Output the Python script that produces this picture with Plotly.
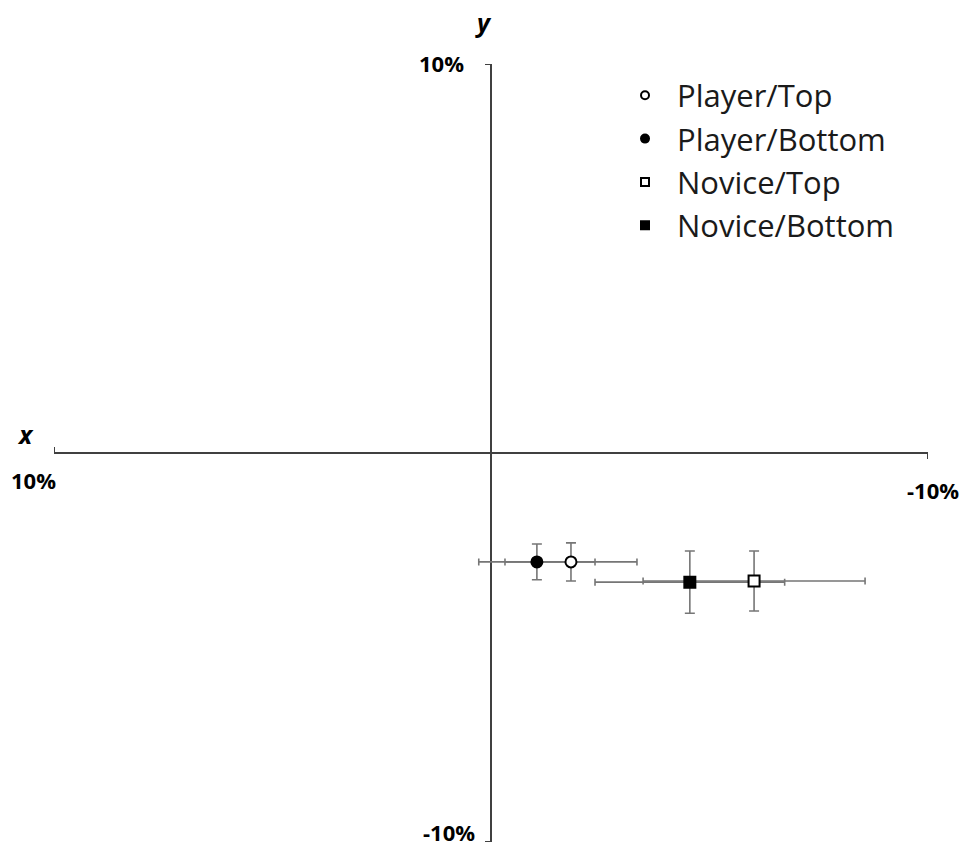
import plotly.graph_objects as go

# Mean displacement per group (in %), with symmetric error ranges
series = ["Player/Top", "Player/Bottom", "Novice/Top", "Novice/Bottom"]
x_vals = [-1.83, -1.05, -6.02, -4.55]
y_vals = [-2.80, -2.80, -3.29, -3.32]
x_err = [1.51, 1.33, 2.54, 2.17]
y_err = [0.49, 0.46, 0.77, 0.80]
symbols = ["circle", "circle", "square", "square"]
fills = ["white", "black", "white", "black"]

# Axis extents and their end labels
axis_min, axis_max = -10, 10
x_tick_vals = [10, -10]
y_tick_vals = [10, -10]

ERR_COLOR = "#767676"
AXIS_COLOR = "#404040"
FONT = "Open Sans"

fig = go.Figure()

# Error bars first so every marker sits on top of all bars
for i, name in enumerate(series):
    fig.add_trace(go.Scatter(
        x=[x_vals[i]], y=[y_vals[i]], mode="markers",
        marker=dict(size=1, opacity=0),
        error_x=dict(type="data", array=[x_err[i]], color=ERR_COLOR, thickness=1.6, width=3.5),
        error_y=dict(type="data", array=[y_err[i]], color=ERR_COLOR, thickness=1.6, width=5),
        showlegend=False, hoverinfo="skip",
    ))

# Group markers
for i, name in enumerate(series):
    fig.add_trace(go.Scatter(
        x=[x_vals[i]], y=[y_vals[i]], mode="markers", name=name,
        marker=dict(symbol=symbols[i], size=11, color=fills[i],
                    line=dict(color="black", width=2)),
        showlegend=False,
    ))

# Legend entries with smaller symbols
for i, name in enumerate(series):
    fig.add_trace(go.Scatter(
        x=[None], y=[None], mode="markers", name=name,
        marker=dict(symbol=symbols[i], size=8, color=fills[i],
                    line=dict(color="black", width=2)),
    ))

axis_common = dict(showgrid=False, showticklabels=False, ticks="", showline=False,
                   zeroline=True, zerolinecolor=AXIS_COLOR, zerolinewidth=2)
fig.update_xaxes(range=[axis_max, axis_min], **axis_common)
fig.update_yaxes(range=[axis_min, axis_max], **axis_common)

# End tick marks on the crossing axes
shapes = []
for xv, up in zip(x_tick_vals, [1, -1]):
    shapes.append(dict(type="line", xref="x", yref="y", ysizemode="pixel", yanchor=0,
                       x0=xv, x1=xv, y0=0, y1=6 * up,
                       line=dict(color=AXIS_COLOR, width=2)))
for yv in y_tick_vals:
    shapes.append(dict(type="line", xref="x", yref="y", xsizemode="pixel", xanchor=0,
                       x0=0, x1=-6, y0=yv, y1=yv,
                       line=dict(color=AXIS_COLOR, width=2)))
fig.update_layout(shapes=shapes)

tick_font = dict(family=FONT, size=22, color="black", weight="bold")
ann = []
# x-axis end labels
ann.append(dict(x=x_tick_vals[0], y=0, xref="x", yref="y", text=f"{x_tick_vals[0]}%",
                showarrow=False, font=tick_font, xanchor="center", yanchor="middle",
                xshift=-21, yshift=-27))
ann.append(dict(x=x_tick_vals[1], y=0, xref="x", yref="y", text=f"{x_tick_vals[1]}%",
                showarrow=False, font=tick_font, xanchor="center", yanchor="middle",
                xshift=5, yshift=-37))
# y-axis end labels
ann.append(dict(x=0, y=y_tick_vals[0], xref="x", yref="y", text=f"{y_tick_vals[0]}%",
                showarrow=False, font=tick_font, xanchor="right", yanchor="middle",
                xshift=-25, yshift=1))
ann.append(dict(x=0, y=y_tick_vals[1], xref="x", yref="y", text=f"{y_tick_vals[1]}%",
                showarrow=False, font=tick_font, xanchor="right", yanchor="middle",
                xshift=-15, yshift=10, borderpad=0))
# axis names
title_font = dict(family=FONT, size=25, color="black", weight="bold", style="italic")
ann.append(dict(x=0, y=axis_max, xref="x", yref="y", text="y", showarrow=False,
                font=title_font, xanchor="center", yanchor="middle", xshift=-8, yshift=42))
ann.append(dict(x=axis_max, y=0, xref="x", yref="y", text="x", showarrow=False,
                font=title_font, xanchor="center", yanchor="middle", xshift=-29, yshift=19))

fig.update_layout(
    annotations=ann,
    width=965, height=847,
    margin=dict(l=54, r=37, t=64, b=5),
    paper_bgcolor="white", plot_bgcolor="white",
    font=dict(family=FONT, color="black"),
    legend=dict(x=0.6396, y=0.994, xanchor="left", yanchor="top",
                font=dict(family=FONT, size=31, color="#1a1a1a"),
                bgcolor="rgba(0,0,0,0)", itemwidth=54, tracegroupgap=0),
)

fig.write_html("out.html")
